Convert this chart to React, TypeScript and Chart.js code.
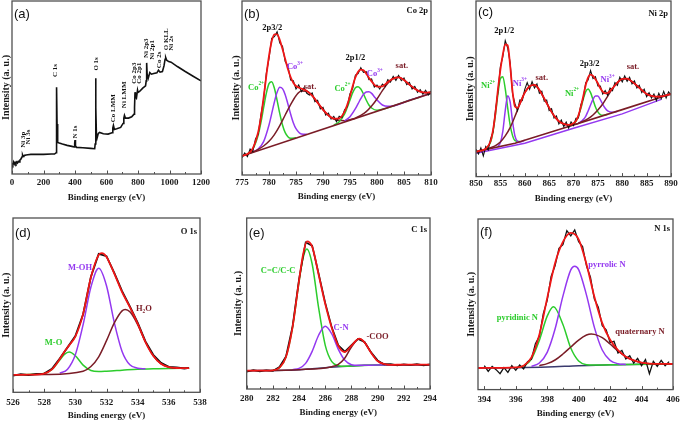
import React, { useEffect, useRef } from 'react';
import { Chart, registerables } from 'chart.js';

Chart.register(...registerables);

const SERIF = '"Liberation Serif", "Times New Roman", serif';
const SANS = '"Liberation Sans", Arial, sans-serif';

const RED = '#f01616';
const GREEN = '#2ccc2c';
const PURPLE = '#9438f0';
const MAROON = '#7a1c26';
const NAVY = '#3a3a6e';
const BLACK = '#111111';
const FRAME = '#505050';

// ---------- (a) survey ----------
const surveyE = [0, 5, 10, 15, 20, 25, 30, 35, 40, 45, 50, 55, 60, 64, 67, 70, 75, 80, 90, 100, 120, 150, 200, 250, 270, 280, 282, 284, 286, 288, 292, 300, 320, 350, 380, 395, 398, 400, 403, 410, 450, 500, 525, 528, 531, 533, 536, 540, 548, 556, 580, 610, 635, 640, 644, 650, 665, 690, 705, 710, 714, 720, 740, 760, 775, 778, 781, 784, 790, 797, 800, 810, 830, 848, 852, 855, 858, 865, 875, 885, 900, 920, 930, 940, 955, 965, 972, 976, 982, 995, 1010, 1050, 1100, 1150, 1200];
const surveyI = [33, 28, 36, 30, 35, 31, 36, 33, 38, 36, 42, 44, 48, 52, 57, 53, 55, 56, 57, 58, 59, 59, 59, 60, 60, 64, 120, 261, 150, 100, 95, 93, 90, 86, 83, 81, 92, 102, 84, 80, 79, 77, 76, 90, 288, 200, 118, 108, 122, 125, 121, 120, 124, 138, 146, 134, 136, 140, 152, 168, 176, 168, 168, 172, 180, 200, 246, 232, 228, 252, 245, 248, 258, 265, 280, 334, 300, 288, 305, 300, 302, 304, 312, 306, 308, 325, 345, 350, 342, 338, 336, 323, 308, 294, 280];

// ---------- (b) Co 2p ----------
const coRawE = [775, 775.5, 776, 776.5, 777, 777.5, 778, 778.5, 779, 779.5, 780, 780.5, 781, 781.5, 782, 782.5, 783, 783.5, 784, 784.5, 785, 785.5, 786, 786.5, 787, 787.5, 788, 788.5, 789, 789.5, 790, 790.5, 791, 791.5, 792, 792.5, 793, 793.5, 794, 794.5, 795, 795.5, 796, 796.5, 797, 797.5, 798, 798.5, 799, 799.5, 800, 800.5, 801, 801.5, 802, 802.5, 803, 803.5, 804, 804.5, 805, 805.5, 806, 806.5, 807, 807.5, 808, 808.5, 809, 809.5, 810];
const coRaw = [52, 66, 55, 78, 70, 108, 122, 180, 226, 305, 350, 410, 415, 430, 396, 386, 340, 327, 285, 283, 258, 270, 250, 262, 245, 240, 246, 220, 224, 198, 203, 180, 186, 168, 176, 160, 176, 172, 196, 205, 244, 260, 300, 304, 322, 308, 310, 286, 288, 264, 270, 258, 273, 266, 286, 279, 296, 284, 299, 283, 291, 271, 278, 258, 266, 248, 256, 242, 254, 240, 252];
const coFitE = [775, 776, 777, 778, 778.5, 779, 779.5, 780, 780.5, 781, 781.5, 782, 782.5, 783, 783.5, 784, 784.5, 785, 786, 787, 788, 789, 790, 791, 792, 793, 794, 794.5, 795, 795.5, 796, 796.5, 797, 797.5, 798, 798.5, 799, 799.5, 800, 801, 802, 803, 804, 805, 806, 807, 808, 809, 810];
const coFit = [57, 63, 80, 129, 173, 232, 297, 357, 401, 422, 422, 405, 378, 348, 318, 294, 277, 267, 259, 252, 238, 217, 196, 179, 169, 170, 190, 211, 237, 267, 293, 310, 316, 314, 304, 292, 281, 271, 265, 266, 279, 289, 293, 285, 271, 259, 250, 247, 248];
const coBgE = [775, 810];
const coBg = [57, 245];
const coG1E = [776, 777, 778, 778.5, 779, 779.5, 780, 780.5, 781, 781.5, 782, 782.5, 783, 783.5, 784, 785];
const coG1 = [63, 78, 120, 157, 202, 245, 274, 280, 260, 224, 184, 150, 127, 115, 110, 112];
const coP1E = [777, 778, 779, 780, 780.5, 781, 781.5, 782, 782.5, 783, 783.5, 784, 784.5, 785, 786, 787];
const coP1 = [69, 78, 100, 150, 184, 219, 248, 263, 259, 241, 213, 183, 157, 139, 123, 122];
const coS1E = [776, 777, 778, 779, 780, 781, 782, 783, 784, 785, 786, 787, 788, 789, 790, 791, 792, 793, 794, 795, 796];
const coS1 = [63, 69, 77, 87, 101, 121, 148, 180, 211, 238, 252, 251, 238, 217, 196, 179, 168, 164, 163, 166, 170];
const coG2E = [792, 793, 794, 794.5, 795, 795.5, 796, 796.5, 797, 797.5, 798, 798.5, 799, 800, 801, 803, 806, 808];
const coG2 = [149, 160, 183, 203, 225, 247, 262, 265, 258, 243, 225, 210, 201, 194, 197, 207, 224, 234];
const coP2E = [794, 795, 796, 796.5, 797, 797.5, 798, 798.5, 799, 799.5, 800, 801, 802, 803, 806, 810];
const coP2 = [162, 175, 199, 214, 229, 242, 249, 250, 245, 235, 225, 210, 206, 207, 224, 245];
const coS2E = [796, 797, 798, 799, 800, 801, 802, 803, 804, 805, 806, 807, 808, 809, 810];
const coS2 = [171, 179, 190, 207, 228, 253, 275, 289, 293, 285, 271, 259, 250, 247, 248];

// ---------- (c) Ni 2p ----------
const niRawE = [850, 850.5, 851, 851.5, 852, 852.5, 853, 853.5, 854, 854.5, 855, 855.5, 856, 856.5, 857, 857.5, 858, 858.5, 859, 859.5, 860, 860.5, 861, 861.5, 862, 862.5, 863, 863.5, 864, 864.5, 865, 865.5, 866, 866.5, 867, 867.5, 868, 868.5, 869, 869.5, 870, 870.5, 871, 871.5, 872, 872.5, 873, 873.5, 874, 874.5, 875, 875.5, 876, 876.5, 877, 877.5, 878, 878.5, 879, 879.5, 880, 880.5, 881, 881.5, 882, 882.5, 883, 883.5, 884, 884.5, 885, 885.5, 886, 886.5, 887, 887.5, 888, 888.5, 889, 889.5, 890];
const niRaw = [82, 68, 86, 62, 90, 80, 114, 134, 200, 254, 330, 360, 408, 386, 342, 248, 218, 198, 230, 228, 262, 282, 262, 285, 266, 278, 250, 256, 226, 230, 198, 204, 176, 182, 158, 170, 150, 164, 146, 164, 153, 175, 176, 215, 234, 282, 290, 318, 294, 300, 272, 272, 248, 258, 244, 266, 258, 282, 274, 298, 284, 302, 286, 298, 278, 287, 266, 274, 252, 262, 240, 252, 236, 248, 228, 250, 234, 256, 236, 254, 244];
const niFitE = [850, 851, 852, 853, 853.5, 854, 854.5, 855, 855.5, 856, 856.5, 857, 857.5, 858, 858.5, 859, 860, 861, 862, 863, 864, 865, 866, 867, 868, 869, 870, 870.5, 871, 871.5, 872, 872.5, 873, 873.5, 874, 874.5, 875, 875.5, 876, 876.5, 877, 878, 879, 880, 881, 882, 883, 884, 885, 886, 887, 888, 889, 890];
const niFit = [75, 78, 84, 107, 140, 193, 261, 320, 366, 397, 394, 334, 255, 210, 206, 219, 252, 271, 275, 260, 234, 207, 183, 166, 158, 155, 160, 167, 183, 209, 241, 274, 298, 306, 302, 292, 280, 265, 255, 250, 251, 265, 282, 293, 294, 285, 273, 260, 248, 242, 240, 241, 244, 248];
const niBgE = [850, 858, 870, 880, 890];
const niBg = [75, 100, 155, 201, 248];
const niLowE = [850, 860, 870, 880, 888];
const niLow = [70, 100, 145, 188, 232];
const niG1E = [852, 853, 853.5, 854, 854.5, 855, 855.5, 856, 856.5, 857, 857.5, 858, 859];
const niG1 = [83, 104, 136, 187, 248, 294, 300, 263, 206, 155, 123, 108, 105];
const niP1E = [854.5, 855, 855.5, 856, 856.5, 857, 857.5, 858, 858.5, 859, 860];
const niP1 = [90, 102, 136, 198, 243, 224, 165, 121, 106, 104, 109];
const niS1E = [852, 853, 854, 855, 856, 857, 858, 859, 860, 861, 862, 863, 864, 865, 866, 867, 868, 869, 870, 871];
const niS1 = [82, 87, 93, 104, 122, 147, 181, 218, 252, 271, 275, 260, 234, 207, 183, 166, 158, 155, 157, 159];
const niG2E = [869, 870, 870.5, 871, 871.5, 872, 872.5, 873, 873.5, 874, 874.5, 875, 875.5, 876, 877];
const niG2 = [150, 158, 166, 181, 204, 232, 255, 263, 252, 231, 209, 194, 186, 184, 187];
const niP2E = [871, 872, 872.5, 873, 873.5, 874, 874.5, 875, 875.5, 876, 876.5, 877, 878, 879];
const niP2 = [160, 171, 181, 197, 215, 232, 242, 242, 231, 217, 205, 197, 193, 196];
const niS2E = [871, 872, 873, 874, 875, 876, 877, 878, 879, 880, 881, 882, 883, 884, 885, 886, 887, 888, 889, 890];
const niS2 = [160, 166, 174, 185, 200, 218, 241, 264, 282, 293, 294, 285, 273, 260, 248, 242, 240, 241, 244, 248];

// ---------- (d) O 1s ----------
const oRawE = [526, 526.5, 527, 527.5, 528, 528.5, 529, 529.5, 530, 530.5, 531, 531.5, 532, 532.5, 533, 533.5, 534, 534.5, 535, 535.5, 536, 536.5, 537, 537.3];
const oRaw = [50, 54, 51, 55, 56, 70, 101, 134, 168, 233, 345, 413, 406, 356, 302, 256, 208, 152, 112, 88, 76, 74, 71, 73];
const oFitE = [526, 527, 528, 528.5, 529, 529.3, 529.6, 530, 530.5, 531, 531.5, 531.7, 532, 532.5, 533, 533.5, 534, 534.5, 535, 535.5, 536, 536.5, 537, 537.3];
const oFit = [52, 52.5, 56, 68.5, 99, 121, 140, 166, 234, 343, 410, 415, 404, 354, 299, 254, 205, 150, 109, 85, 75, 72.5, 72, 72];
const oGreenE = [526, 528, 528.5, 529, 529.3, 529.6, 530, 530.5, 531, 531.5, 532, 533, 534, 535, 536, 537.3];
const oGreen = [52, 56, 68, 96, 113, 120, 109, 81, 65, 62, 63, 66, 69, 70, 71, 72];
const oPurpleE = [529, 529.5, 530, 530.5, 531, 531.5, 532, 532.5, 533, 533.5, 534, 534.5];
const oPurple = [57, 69, 112, 202, 314, 370, 318, 208, 122, 82, 72, 70];
const oBrownE = [526, 528, 530.5, 531, 531.5, 532, 532.5, 533, 533.2, 533.5, 534, 534.5, 535, 535.5, 536, 536.5, 537, 537.3];
const oBrown = [52, 53, 63, 77, 106, 154, 207, 243, 247, 240, 202, 150, 109, 85, 75, 72, 72, 72];

// ---------- (e) C 1s ----------
const cRawE = [280, 280.5, 281, 281.5, 282, 282.5, 283, 283.5, 284, 284.5, 285, 285.5, 286, 286.5, 287, 287.5, 288, 288.5, 289, 289.5, 290, 290.5, 291, 291.5, 292, 292.5, 293, 293.5, 294];
const cRaw = [52, 57, 53, 56, 54, 66, 98, 188, 330, 440, 430, 345, 258, 185, 131, 112, 132, 150, 141, 110, 86, 74, 75, 71, 74, 72, 75, 71, 74];
const cFitE = [280, 281, 282, 282.5, 283, 283.5, 284, 284.3, 284.6, 285, 285.5, 286, 286.5, 287, 287.5, 288, 288.6, 289, 289.5, 290, 290.5, 291, 292, 294];
const cFit = [55, 55, 56, 64, 96, 185, 326, 402, 443, 427, 342, 255, 183, 129, 111, 130, 151, 140, 109, 84, 75, 72.5, 73, 73];
const cGreenE = [282, 282.5, 283, 283.5, 284, 284.3, 284.6, 285, 285.5, 286, 286.5, 287, 287.5, 288, 290, 294];
const cGreen = [56, 64, 96, 184, 322, 392, 420, 375, 242, 131, 82, 70, 68, 69, 72, 73];
const cPurpleE = [283.5, 284, 284.5, 285, 285.5, 286, 286.5, 287, 287.5, 288, 288.5, 290, 294];
const cPurple = [58, 62, 77, 113, 162, 188, 165, 119, 86, 73, 71, 72, 73];
const cBrownE = [280, 284, 286.5, 287, 287.5, 288, 288.6, 289, 289.5, 290, 290.5, 291, 292, 294];
const cBrown = [55, 58, 67, 74, 93, 126, 151, 140, 109, 84, 75, 72.5, 73, 73];
const cBgE = [280, 283, 284, 285, 286, 287, 288, 289, 290, 292, 294];
const cBg = [55, 56, 58, 61, 64, 67, 69, 71, 72, 73, 73];

// ---------- (f) N 1s ----------
const nRawE = [394, 394.25, 394.5, 394.75, 395, 395.25, 395.5, 395.75, 396, 396.25, 396.5, 396.75, 397, 397.25, 397.5, 397.75, 398, 398.25, 398.5, 398.75, 399, 399.25, 399.5, 399.75, 400, 400.25, 400.5, 400.75, 401, 401.25, 401.5, 401.75, 402, 402.25, 402.5, 402.75, 403, 403.25, 403.5, 403.75, 404, 404.25, 404.5, 404.75, 405, 405.25, 405.5, 405.75];
const nRaw = [72, 55, 70, 60, 48, 66, 52, 72, 58, 74, 62, 84, 92, 138, 160, 228, 268, 340, 372, 425, 436, 478, 462, 480, 445, 430, 372, 338, 272, 248, 192, 180, 142, 145, 110, 118, 92, 102, 80, 94, 72, 90, 48, 85, 70, 88, 72, 84];
const nFitE = [393.6, 396, 396.5, 397, 397.5, 398, 398.5, 399, 399.5, 400, 400.5, 401, 401.5, 402, 402.5, 403, 403.5, 404, 404.5, 405, 406];
const nFit = [65, 67, 72, 97, 165, 275, 380, 444, 471, 452, 377, 279, 200, 150, 119, 99, 88, 81, 78, 77.5, 77];
const nGreenE = [396, 396.5, 397, 397.5, 398, 398.4, 399, 399.5, 400, 400.5, 401, 403, 406];
const nGreen = [66, 71, 92, 148, 221, 249, 196, 125, 86, 75, 74, 75.5, 77];
const nPurpleE = [397, 397.5, 398, 398.5, 399, 399.5, 399.75, 400, 400.5, 401, 401.5, 402, 402.5, 403];
const nPurple = [70, 80, 112, 182, 281, 360, 371, 361, 284, 187, 119, 88, 78, 75.5];
const nBrownE = [397.5, 398, 398.5, 399, 399.5, 400, 400.5, 400.8, 401, 401.5, 402, 402.5, 403, 403.5, 404, 404.5, 405, 406];
const nBrown = [72, 78, 89, 107, 128, 149, 164, 167, 166, 156, 137, 116, 99, 88, 81, 78, 77.5, 77];
const nBgE = [393.6, 396, 398, 400, 402, 404, 406];
const nBg = [65, 66, 68, 72, 75, 76, 77];

type Series = { e: number[]; v: number[]; color: string; width: number; smooth: boolean };
type Ann = { x: number; y: number; t: string; sup?: string; sub?: string; after?: string; c?: string; rot?: boolean; size?: number };
type PanelSpec = {
  id: string;
  plotLeft: number; plotTop: number; plotW: number; plotH: number;
  yW: number; xH: number; tickPad: number;
  xMin: number; xMax: number; xStep: number; yMax: number;
  series: Series[];
  labels: Ann[];
  letter: string; letterDy: number;
  corner?: string; cornerDy?: number;
};

const PAD_T = 4;
const PAD_R = 16;

const raw = (e: number[], v: number[], w = 1.1): Series => ({ e, v, color: BLACK, width: w, smooth: false });
const fit = (e: number[], v: number[], color: string, w = 1.5): Series => ({ e, v, color, width: w, smooth: true });

const PANELS: PanelSpec[] = [
  {
    id: 'a', plotLeft: 12, plotTop: 1, plotW: 189, plotH: 173, yW: 12, xH: 29, tickPad: 4,
    xMin: 0, xMax: 1200, xStep: 200, yMax: 520,
    series: [raw(surveyE, surveyI, 1.6)],
    labels: [
      { x: 68, y: 103, t: 'Ni 3p', rot: true },
      { x: 104, y: 111, t: 'Ni 3s', rot: true },
      { x: 275, y: 311, t: 'C 1s', rot: true },
      { x: 402, y: 126, t: 'N 1s', rot: true },
      { x: 535, y: 331, t: 'O 1s', rot: true },
      { x: 645, y: 198, t: 'Co LMM', rot: true },
      { x: 715, y: 238, t: 'Ni LMM', rot: true },
      { x: 777, y: 303, t: 'Co 2p3', rot: true },
      { x: 808, y: 303, t: 'Co 2p1', rot: true },
      { x: 855, y: 378, t: 'Ni 2p3', rot: true },
      { x: 887, y: 373, t: 'Ni 2p1', rot: true },
      { x: 935, y: 343, t: 'Co 2s', rot: true },
      { x: 976, y: 405, t: 'O KLL', rot: true },
      { x: 1012, y: 393, t: 'Ni 2s', rot: true },
    ],
    letter: '(a)', letterDy: 13,
  },
  {
    id: 'b', plotLeft: 242, plotTop: 1, plotW: 189, plotH: 174, yW: 12, xH: 27, tickPad: 3,
    xMin: 775, xMax: 810, xStep: 5, yMax: 522,
    series: [
      fit(coG1E, coG1, GREEN), fit(coP1E, coP1, PURPLE), fit(coS1E, coS1, MAROON),
      fit(coG2E, coG2, GREEN), fit(coP2E, coP2, PURPLE), fit(coS2E, coS2, MAROON),
      { e: coBgE, v: coBg, color: MAROON, width: 1.6, smooth: false },
      raw(coRawE, coRaw), fit(coFitE, coFit, RED, 1.8),
    ],
    labels: [
      { x: 780.6, y: 442, t: '2p3/2', c: BLACK },
      { x: 777.6, y: 263, t: 'Co', sup: '2+', c: GREEN },
      { x: 784.8, y: 325, t: 'Co', sup: '3+', c: PURPLE },
      { x: 787.6, y: 266, t: 'sat.', c: MAROON },
      { x: 796, y: 353, t: '2p1/2', c: BLACK },
      { x: 793.6, y: 260, t: 'Co', sup: '2+', c: GREEN },
      { x: 799.6, y: 303, t: 'Co', sup: '3+', c: PURPLE },
      { x: 804.6, y: 328, t: 'sat.', c: MAROON },
    ],
    letter: '(b)', letterDy: 13, corner: 'Co 2p', cornerDy: 10,
  },
  {
    id: 'c', plotLeft: 476, plotTop: 1, plotW: 195, plotH: 176, yW: 12, xH: 27.4, tickPad: 2,
    xMin: 850, xMax: 890, xStep: 5, yMax: 527,
    series: [
      { e: niLowE, v: niLow, color: PURPLE, width: 1.4, smooth: false },
      fit(niG1E, niG1, GREEN), fit(niP1E, niP1, PURPLE), fit(niS1E, niS1, MAROON),
      fit(niG2E, niG2, GREEN), fit(niP2E, niP2, PURPLE), fit(niS2E, niS2, MAROON),
      { e: niBgE, v: niBg, color: MAROON, width: 1.6, smooth: false },
      raw(niRawE, niRaw), fit(niFitE, niFit, RED, 1.8),
    ],
    labels: [
      { x: 855.8, y: 438, t: '2p1/2', c: BLACK },
      { x: 852.5, y: 272, t: 'Ni', sup: '2+', c: GREEN },
      { x: 859, y: 280, t: 'Ni', sup: '3+', c: PURPLE },
      { x: 863.5, y: 297, t: 'sat.', c: MAROON },
      { x: 873.3, y: 340, t: '2p3/2', c: BLACK },
      { x: 869.7, y: 250, t: 'Ni', sup: '2+', c: GREEN },
      { x: 877, y: 290, t: 'Ni', sup: '3+', c: PURPLE },
      { x: 882.2, y: 330, t: 'sat.', c: MAROON },
    ],
    letter: '(c)', letterDy: 11, corner: 'Ni 2p', cornerDy: 13,
  },
  {
    id: 'd', plotLeft: 13, plotTop: 218, plotW: 187, plotH: 174, yW: 13, xH: 28.7, tickPad: 5,
    xMin: 526, xMax: 538, xStep: 2, yMax: 520,
    series: [
      fit(oGreenE, oGreen, GREEN), fit(oPurpleE, oPurple, PURPLE), fit(oBrownE, oBrown, MAROON),
      raw(oRawE, oRaw, 1.8), fit(oFitE, oFit, RED, 1.8),
    ],
    labels: [
      { x: 530.3, y: 372, t: 'M-OH', c: PURPLE },
      { x: 534.4, y: 248, t: 'H', sub: '2', after: 'O', c: MAROON },
      { x: 528.6, y: 148, t: 'M-O', c: GREEN },
    ],
    letter: '(d)', letterDy: 15, corner: 'O 1s', cornerDy: 14,
  },
  {
    id: 'e', plotLeft: 247, plotTop: 218, plotW: 183, plotH: 171, yW: 14.7, xH: 29, tickPad: 4.5,
    xMin: 280, xMax: 294, xStep: 2, yMax: 513,
    series: [
      { e: cBgE, v: cBg, color: NAVY, width: 1.5, smooth: true },
      fit(cGreenE, cGreen, GREEN), fit(cPurpleE, cPurple, PURPLE), fit(cBrownE, cBrown, MAROON),
      raw(cRawE, cRaw, 1.6), fit(cFitE, cFit, RED, 1.8),
    ],
    labels: [
      { x: 282.4, y: 355, t: 'C=C/C-C', c: GREEN },
      { x: 287.2, y: 183, t: 'C-N', c: PURPLE },
      { x: 290.0, y: 158, t: '-COO', c: MAROON },
    ],
    letter: '(e)', letterDy: 15, corner: 'C 1s', cornerDy: 12,
  },
  {
    id: 'f', plotLeft: 478, plotTop: 219, plotW: 195, plotH: 171, yW: 13, xH: 29.4, tickPad: 5,
    xMin: 393.6, xMax: 406, xStep: 2, yMax: 513,
    series: [
      { e: nBgE, v: nBg, color: NAVY, width: 1.5, smooth: true },
      fit(nGreenE, nGreen, GREEN), fit(nPurpleE, nPurple, PURPLE), fit(nBrownE, nBrown, MAROON),
      raw(nRawE, nRaw, 1.3), fit(nFitE, nFit, RED, 1.8),
    ],
    labels: [
      { x: 401.8, y: 375, t: 'pyrrolic N', c: PURPLE },
      { x: 396.1, y: 215, t: 'pyridinic N', c: GREEN },
      { x: 403.9, y: 175, t: 'quaternary N', c: MAROON },
    ],
    letter: '(f)', letterDy: 13, corner: 'N 1s', cornerDy: 10,
  },
];

function drawRich(ctx: CanvasRenderingContext2D, a: Ann, px: number, py: number) {
  const size = a.size ?? (a.rot ? 7 : 8.5);
  const small = size * 0.62;
  const segs: { t: string; k: string }[] = [{ t: a.t, k: 'n' }];
  if (a.sup) segs.push({ t: a.sup, k: 'sup' });
  if (a.sub) segs.push({ t: a.sub, k: 'sub' });
  if (a.after) segs.push({ t: a.after, k: 'n' });
  ctx.save();
  ctx.translate(px, py);
  if (a.rot) ctx.rotate(-Math.PI / 2);
  ctx.fillStyle = a.c ?? BLACK;
  ctx.textBaseline = 'middle';
  ctx.textAlign = 'left';
  const fontOf = (k: string) => `bold ${k === 'n' ? size : small}px ${SERIF}`;
  let total = 0;
  const widths = segs.map((s) => {
    ctx.font = fontOf(s.k);
    const w = ctx.measureText(s.t).width;
    total += w;
    return w;
  });
  let x = -total / 2;
  segs.forEach((s, i) => {
    ctx.font = fontOf(s.k);
    const dy = s.k === 'sup' ? -size * 0.38 : s.k === 'sub' ? size * 0.32 : 0;
    ctx.fillText(s.t, x, dy);
    x += widths[i];
  });
  ctx.restore();
}

function makePlugin(spec: PanelSpec) {
  return {
    id: 'decor_' + spec.id,
    afterDatasetsDraw(chart: any) {
      const { ctx, chartArea } = chart;
      const { left, right, top, bottom } = chartArea;
      const xs = chart.scales.x;
      const ys = chart.scales.y;
      ctx.save();
      spec.labels.forEach((a) => drawRich(ctx, a, xs.getPixelForValue(a.x), ys.getPixelForValue(a.y)));
      ctx.strokeStyle = FRAME;
      ctx.lineWidth = 1.3;
      ctx.strokeRect(left, top, right - left, bottom - top);
      const vals = xs.ticks.map((t: any) => t.value);
      ctx.lineWidth = 1;
      ctx.beginPath();
      vals.forEach((v: number, i: number) => {
        const p = Math.round(xs.getPixelForValue(v)) + 0.5;
        ctx.moveTo(p, bottom);
        ctx.lineTo(p, bottom - 3.5);
        if (i < vals.length - 1) {
          const m = Math.round(xs.getPixelForValue((v + vals[i + 1]) / 2)) + 0.5;
          ctx.moveTo(m, bottom);
          ctx.lineTo(m, bottom - 2);
        }
      });
      ctx.stroke();
      ctx.fillStyle = '#111';
      ctx.font = `13px ${SANS}`;
      ctx.textBaseline = 'middle';
      ctx.textAlign = 'left';
      ctx.fillText(spec.letter, left + 2, top + spec.letterDy);
      if (spec.corner) {
        ctx.font = `bold 8.5px ${SERIF}`;
        ctx.textAlign = 'right';
        ctx.fillText(spec.corner, right - 3, top + (spec.cornerDy ?? 10));
      }
      ctx.restore();
    },
  };
}

function buildConfig(spec: PanelSpec): any {
  const n = spec.series.length;
  return {
    type: 'line',
    data: {
      datasets: spec.series.map((s, i) => ({
        data: s.e.map((x, j) => ({ x, y: s.v[j] })),
        borderColor: s.color,
        borderWidth: s.width,
        pointRadius: 0,
        fill: false,
        tension: 0,
        cubicInterpolationMode: s.smooth ? 'monotone' : 'default',
        order: n - i,
      })),
    },
    options: {
      animation: false,
      responsive: false,
      maintainAspectRatio: false,
      events: [],
      layout: { padding: { left: 0, right: PAD_R, top: PAD_T, bottom: 0 } },
      plugins: { legend: { display: false }, tooltip: { enabled: false } },
      scales: {
        x: {
          type: 'linear',
          min: spec.xMin,
          max: spec.xMax,
          afterFit: (s: any) => { s.height = spec.xH; s.paddingLeft = 0; s.paddingRight = 0; },
          grid: { display: false, drawTicks: false, tickLength: 0 },
          border: { display: false },
          ticks: {
            stepSize: spec.xStep,
            autoSkip: false,
            maxRotation: 0,
            includeBounds: false,
            padding: spec.tickPad - 0.5,
            color: '#1a1a1a',
            font: { family: SERIF, size: 9, weight: 'bold' },
            callback: (v: number) => String(v),
          },
          title: {
            display: true,
            text: 'Binding energy (eV)',
            color: '#1a1a1a',
            padding: 0,
            font: { family: SERIF, size: 9, weight: 'bold' },
          },
        },
        y: {
          type: 'linear',
          min: 0,
          max: spec.yMax,
          afterFit: (s: any) => { s.width = spec.yW; s.paddingTop = 0; s.paddingBottom = 0; },
          grid: { display: false, drawTicks: false, tickLength: 0 },
          border: { display: false },
          ticks: { display: false },
          title: {
            display: true,
            text: 'Intensity (a. u.)',
            color: '#1a1a1a',
            padding: 0,
            font: { family: SERIF, size: 10, weight: 'bold' },
          },
        },
      },
    },
    plugins: [makePlugin(spec)],
  };
}

function Panel({ spec }: { spec: PanelSpec }) {
  const ref = useRef<HTMLCanvasElement>(null);
  useEffect(() => {
    if (!ref.current) return;
    const chart = new Chart(ref.current, buildConfig(spec));
    return () => chart.destroy();
  }, [spec]);
  const w = Math.round(spec.yW + spec.plotW + PAD_R);
  const h = Math.round(PAD_T + spec.plotH + spec.xH);
  return (
    <canvas
      ref={ref}
      width={w}
      height={h}
      style={{ position: 'absolute', left: spec.plotLeft - spec.yW, top: spec.plotTop - PAD_T, width: w, height: h }}
    />
  );
}

export default function App() {
  return (
    <div style={{ position: 'absolute', left: 0, top: 0, width: 682, height: 423, background: '#ffffff', overflow: 'hidden' }}>
      {PANELS.map((p) => (
        <Panel key={p.id} spec={p} />
      ))}
    </div>
  );
}
